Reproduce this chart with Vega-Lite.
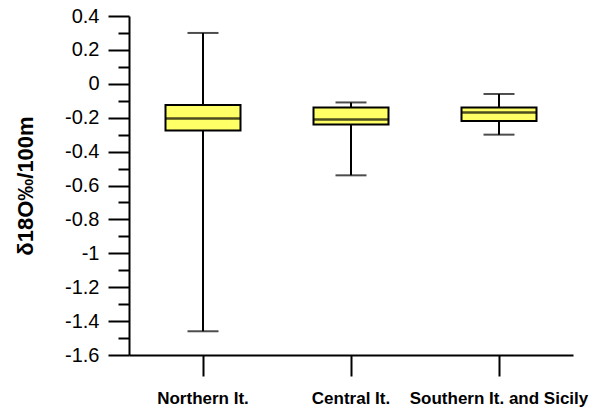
{
  "$schema": "https://vega.github.io/schema/vega-lite/v6.json",
  "width": 444,
  "height": 339,
  "autosize": "none",
  "padding": {"left": 129, "top": 16, "right": 17, "bottom": 54},
  "background": "white",
  "config": {
    "view": {"stroke": null},
    "font": "Liberation Sans"
  },
  "data": {
    "values": [
      {"region": "Northern It.", "min": -1.46, "q1": -0.275, "median": -0.205, "q3": -0.125, "max": 0.3},
      {"region": "Central It.", "min": -0.54, "q1": -0.24, "median": -0.21, "q3": -0.14, "max": -0.11},
      {"region": "Southern It. and Sicily", "min": -0.3, "q1": -0.22, "median": -0.17, "q3": -0.14, "max": -0.06}
    ]
  },
  "encoding": {
    "x": {
      "field": "region",
      "type": "nominal",
      "sort": null,
      "scale": {"paddingInner": 0, "paddingOuter": 0},
      "axis": {
        "title": null,
        "labelAngle": 0,
        "labelFont": "Liberation Sans",
        "labelFontSize": 17,
        "labelFontWeight": "bold",
        "labelColor": "black",
        "labelPadding": 14,
        "labelOverlap": false,
        "tickSize": 21,
        "tickWidth": 2,
        "tickColor": "black",
        "domainWidth": 2,
        "domainColor": "black",
        "grid": false
      }
    }
  },
  "layer": [
    {
      "mark": {"type": "rule", "color": "black", "strokeWidth": 2},
      "encoding": {
        "y": {
          "field": "min",
          "type": "quantitative",
          "scale": {"domain": [-1.6, 0.4], "nice": false, "zero": false},
          "axis": {
            "title": "δ18O‰/100m",
            "titleFont": "Liberation Sans",
            "titleFontSize": 22,
            "titleFontWeight": "bold",
            "titleColor": "black",
            "titlePadding": 27,
            "tickCount": 20,
            "labelExpr": "abs(round(datum.value*10)) % 2 == 0 ? toString(round(datum.value*10)/10) : ''",
            "labelOverlap": false,
            "labelFont": "Liberation Sans",
            "labelFontSize": 20,
            "labelColor": "black",
            "labelPadding": 9,
            "tickSize": {"condition": {"test": "abs(round(datum.value*10)) % 2 == 0", "value": 21}, "value": 11},
            "tickWidth": 2,
            "tickColor": "black",
            "domainWidth": 2,
            "domainColor": "black",
            "grid": false
          }
        },
        "y2": {"field": "max"}
      }
    },
    {
      "mark": {"type": "tick", "color": "black", "size": 31, "thickness": 2},
      "encoding": {"y": {"field": "min", "type": "quantitative", "title": "δ18O‰/100m"}}
    },
    {
      "mark": {"type": "tick", "color": "black", "size": 31, "thickness": 2},
      "encoding": {"y": {"field": "max", "type": "quantitative", "title": "δ18O‰/100m"}}
    },
    {
      "mark": {"type": "bar", "size": 75, "fill": "#FFFF66", "stroke": "black", "strokeWidth": 2},
      "encoding": {
        "y": {"field": "q3", "type": "quantitative", "title": "δ18O‰/100m"},
        "y2": {"field": "q1"}
      }
    },
    {
      "mark": {"type": "tick", "color": "black", "size": 75, "thickness": 2.5},
      "encoding": {"y": {"field": "median", "type": "quantitative", "title": "δ18O‰/100m"}}
    }
  ]
}
